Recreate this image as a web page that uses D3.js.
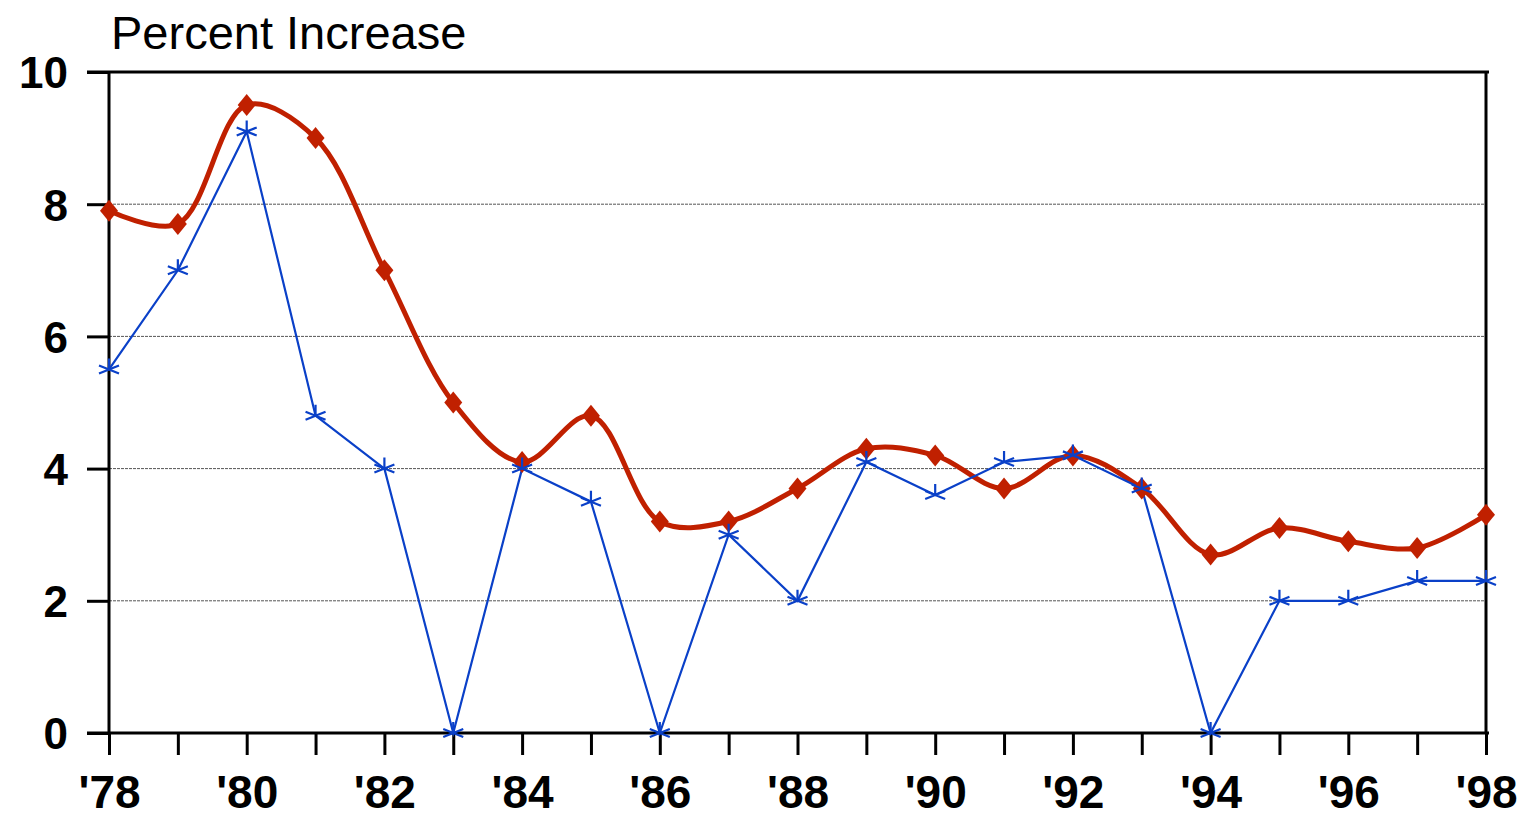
<!DOCTYPE html>
<html><head><meta charset="utf-8">
<script src="https://cdn.jsdelivr.net/npm/d3@7"></script>
<style>body{margin:0;background:#fff}svg{display:block}</style>
</head><body>
<script>
const years = ["'78","'79","'80","'81","'82","'83","'84","'85","'86","'87","'88","'89","'90","'91","'92","'93","'94","'95","'96","'97","'98"];
const redValues = [7.9,7.7,9.5,9.0,7.0,5.0,4.1,4.8,3.2,3.2,3.7,4.3,4.2,3.7,4.2,3.7,2.7,3.1,2.9,2.8,3.3];
const blueValues = [5.5,7.0,9.1,4.8,4.0,0,4.0,3.5,0,3.0,2.0,4.1,3.6,4.1,4.2,3.7,0,2.0,2.0,2.3,2.3];
const yTicks = [0,2,4,6,8,10];
const xLabelIdx = [0,2,4,6,8,10,12,14,16,18,20];

const W=1521,H=817;
const svg=d3.select("body").append("svg").attr("width",W).attr("height",H);
const x=d3.scalePoint().domain(years).range([109,1486]);
const y=d3.scaleLinear().domain([0,10]).range([733,72]);
const font="'Liberation Sans', Arial, Helvetica, sans-serif";

// gridlines
svg.append("g").selectAll("line").data(yTicks.filter(d=>d>0&&d<10)).join("line")
 .attr("x1",109).attr("x2",1486).attr("y1",d=>y(d)).attr("y2",d=>y(d))
 .attr("stroke","#555").attr("stroke-width",1).attr("stroke-dasharray","3,1");

// frame top and right
svg.append("line").attr("x1",87).attr("x2",1489).attr("y1",y(10)).attr("y2",y(10)).attr("stroke","#000").attr("stroke-width",3);
svg.append("line").attr("x1",1486).attr("x2",1486).attr("y1",y(10)).attr("y2",y(0)).attr("stroke","#000").attr("stroke-width",3);

// y axis
const ya=svg.append("g").attr("transform","translate(109,0)")
 .call(d3.axisLeft(y).tickValues(yTicks).tickSize(22).tickPadding(19).tickFormat(d3.format("d")));
ya.select(".domain").remove();
ya.append("line").attr("x1",0).attr("x2",0).attr("y1",y(10)).attr("y2",y(0)).attr("stroke","#000").attr("stroke-width",3);
ya.selectAll(".tick line").attr("stroke","#000").attr("stroke-width",3);
ya.selectAll(".tick text").attr("font-family",font).attr("font-weight","bold").attr("font-size",44).attr("fill","#000").attr("dy","0.36em");

// x axis
const xa=svg.append("g").attr("transform",`translate(0,${y(0)})`)
 .call(d3.axisBottom(x).tickSize(22).tickPadding(20).tickFormat((d,i)=>xLabelIdx.includes(i)?d:""));
xa.select(".domain").remove();
xa.append("line").attr("x1",87).attr("x2",1489).attr("y1",0).attr("y2",0).attr("stroke","#000").attr("stroke-width",3);
xa.selectAll(".tick line").attr("stroke","#000").attr("stroke-width",3);
xa.selectAll(".tick text").attr("font-family",font).attr("font-weight","bold").attr("font-size",46).attr("fill","#000");

// title
svg.append("text").attr("x",111).attr("y",49).attr("font-family",font).attr("font-size",47).attr("fill","#000").text("Percent Increase");

// red smooth line
const red="#C02000", blue="#0A40C8";
svg.append("path").datum(redValues)
 .attr("d",d3.line().x((d,i)=>x(years[i])).y(d=>y(d)).curve(d3.curveCatmullRom.alpha(0.5)))
 .attr("fill","none").attr("stroke",red).attr("stroke-width",5);
// blue line
svg.append("path").datum(blueValues)
 .attr("d",d3.line().x((d,i)=>x(years[i])).y(d=>y(d)))
 .attr("fill","none").attr("stroke",blue).attr("stroke-width",2.2);
// red diamonds
svg.append("g").selectAll("path").data(redValues).join("path")
 .attr("transform",(d,i)=>`translate(${x(years[i])},${y(d)})`)
 .attr("d","M0,-11L9,0L0,11L-9,0Z").attr("fill",red);
// blue star markers
svg.append("g").selectAll("path").data(blueValues).join("path")
 .attr("transform",(d,i)=>`translate(${x(years[i])},${y(d)})`)
 .attr("d","M-10,-4L10,4M-10,4L10,-4M0,-11L0,0")
 .attr("stroke",blue).attr("stroke-width",2.2).attr("fill","none");
</script>
</body></html>
